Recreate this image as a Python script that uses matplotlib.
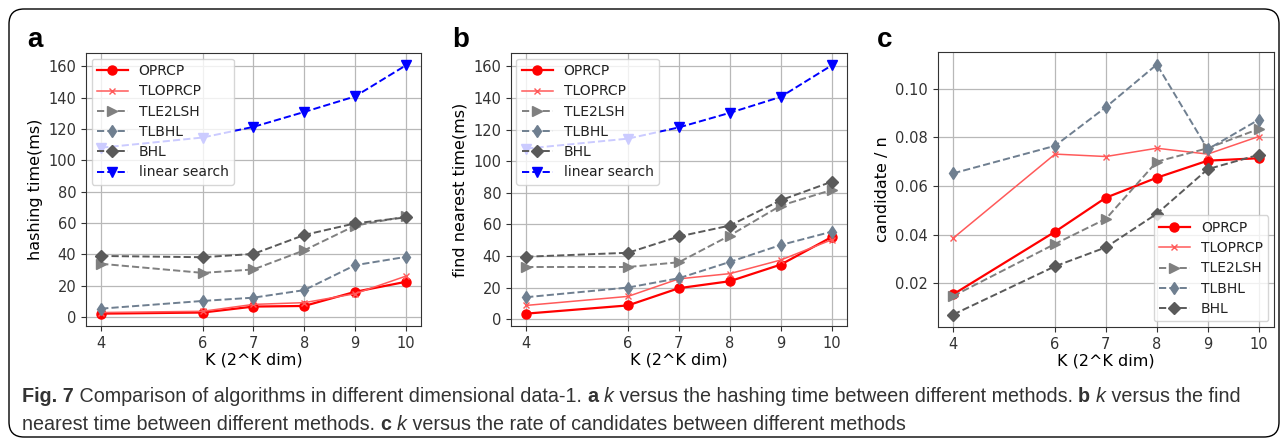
import matplotlib
matplotlib.use('Agg')
import matplotlib.pyplot as plt
from matplotlib.patches import FancyBboxPatch
from matplotlib import font_manager

# data
k = [4, 6, 7, 8, 9, 10]

# (a) hashing time (ms)
hash_oprcp = [2.1, 2.8, 6.6, 7.0, 16.0, 22.4]
hash_tloprcp = [2.8, 3.6, 8.0, 9.1, 14.8, 26.0]
hash_tle2lsh = [33.9, 28.1, 30.3, 42.5, 58.2, 64.1]
hash_tlbhl = [5.3, 10.2, 12.3, 17.1, 33.0, 38.3]
hash_bhl = [38.9, 38.1, 40.2, 52.3, 59.7, 63.5]
hash_linear = [108, 114.5, 121.3, 130.8, 140.7, 160.5]

# (b) find nearest time (ms)
find_oprcp = [3.6, 8.8, 19.7, 24.1, 34.6, 52.0]
find_tloprcp = [8.8, 14.5, 25.6, 28.9, 37.5, 50.3]
find_tle2lsh = [33.1, 33.1, 36.1, 53.0, 71.9, 81.8]
find_tlbhl = [14.0, 20.1, 26.0, 36.3, 47.0, 55.4]
find_bhl = [39.6, 42.1, 52.4, 59.3, 75.3, 87.0]
find_linear = [108, 114.3, 121.4, 130.6, 140.7, 160.6]

# (c) candidate / n
cand_oprcp = [0.0155, 0.0412, 0.0552, 0.0634, 0.0704, 0.0714]
cand_tloprcp = [0.0386, 0.0731, 0.0721, 0.0755, 0.0731, 0.0803]
cand_tle2lsh = [0.0148, 0.0362, 0.0465, 0.0700, 0.0755, 0.0834]
cand_tlbhl = [0.0652, 0.0765, 0.0924, 0.1099, 0.0751, 0.0872]
cand_bhl = [0.0072, 0.0270, 0.0348, 0.0486, 0.0669, 0.0728]

names = ['OPRCP', 'TLOPRCP', 'TLE2LSH', 'TLBHL', 'BHL', 'linear search']
styles = [
    dict(color='red', ls='-', lw=1.6, marker='o', ms=6.5),
    dict(color='#ff5a5a', ls='-', lw=1.1, marker='x', ms=5),
    dict(color='#808080', ls='--', lw=1.4, marker='>', ms=6.5),
    dict(color='#6f7f90', ls='--', lw=1.4, marker='d', ms=6.5),
    dict(color='#5a5a5a', ls='--', lw=1.4, marker='D', ms=6.5),
    dict(color='blue', ls='--', lw=1.4, marker='v', ms=6.5),
]

def has_font(name):
    try:
        font_manager.findfont(name, fallback_to_default=False)
        return True
    except Exception:
        return False

cap_font = 'Liberation Sans Narrow' if has_font('Liberation Sans Narrow') else 'Liberation Sans'

plt.rcParams['font.family'] = 'DejaVu Sans'
plt.rcParams['axes.edgecolor'] = '#333333'
plt.rcParams['text.color'] = '#222222'
plt.rcParams['xtick.color'] = '#333333'
plt.rcParams['ytick.color'] = '#333333'

fig = plt.figure(figsize=(12.87, 4.40), dpi=100)

def panel(rect, series, ylabel, yticks, legend_loc):
    ax = fig.add_axes(rect)
    for name, vals, st in zip(names, series, styles):
        ax.plot(k, vals, label=name, **st)
    ax.set_xticks(k)
    ax.set_yticks(yticks)
    ax.grid(True, color='#b8b8b8', lw=0.9)
    ax.set_axisbelow(True)
    ax.tick_params(labelsize=10.5)
    ax.set_xlabel('K (2^K dim)', fontsize=11.5, labelpad=1)
    ax.set_ylabel(ylabel, fontsize=11.5)
    ax.legend(loc=legend_loc, fontsize=10, handlelength=2.2, borderaxespad=0.4,
              labelspacing=0.45)
    return ax

ax_a = panel([0.0668, 0.259, 0.2603, 0.6205],
             [hash_oprcp, hash_tloprcp, hash_tle2lsh, hash_tlbhl, hash_bhl, hash_linear],
             'hashing time(ms)', range(0, 161, 20), 'upper left')
ax_b = panel([0.397, 0.259, 0.261, 0.6205],
             [find_oprcp, find_tloprcp, find_tle2lsh, find_tlbhl, find_bhl, find_linear],
             'find nearest time(ms)', range(0, 161, 20), 'upper left')
ax_c = panel([0.7288, 0.2568, 0.261, 0.625],
             [cand_oprcp, cand_tloprcp, cand_tle2lsh, cand_tlbhl, cand_bhl],
             'candidate / n', [0.02, 0.04, 0.06, 0.08, 0.10], 'lower right')
ax_c.set_yticklabels(['0.02', '0.04', '0.06', '0.08', '0.10'])

# panel letters
for x, letter in [(27, 'a'), (452, 'b'), (877, 'c')]:
    fig.text(x / 1287, 1 - 40 / 440, letter, fontsize=20, fontweight='bold',
             family='Liberation Sans', va='center', ha='left', color='black')

# rounded frame around everything
frame = FancyBboxPatch((0.09, 0.03), 12.70, 4.28,
                       boxstyle='round,pad=0,rounding_size=0.15',
                       transform=fig.dpi_scale_trans, fill=False,
                       ec='black', lw=1.0)
fig.patches.append(frame)

# caption with mixed bold / italic pieces
renderer = fig.canvas.get_renderer()
cap_size = 14.2
lines = [
    (397, [('Fig. 7', 'bold', 'normal'),
           (' Comparison of algorithms in different dimensional data-1. ', 'normal', 'normal'),
           ('a', 'bold', 'normal'), (' ', 'normal', 'normal'),
           ('k', 'normal', 'italic'),
           (' versus the hashing time between different methods. ', 'normal', 'normal'),
           ('b', 'bold', 'normal'), (' ', 'normal', 'normal'),
           ('k', 'normal', 'italic'),
           (' versus the find', 'normal', 'normal')]),
    (424, [('nearest time between different methods. ', 'normal', 'normal'),
           ('c', 'bold', 'normal'), (' ', 'normal', 'normal'),
           ('k', 'normal', 'italic'),
           (' versus the rate of candidates between different methods', 'normal', 'normal')]),
]
for ypix, pieces in lines:
    xpix = 22
    for txt, weight, style in pieces:
        t = fig.text(xpix / 1287, 1 - ypix / 440, txt, fontsize=cap_size,
                     fontweight=weight, fontstyle=style, family=cap_font,
                     va='center', ha='left', color='#333333')
        bb = t.get_window_extent(renderer=renderer)
        xpix += bb.width

fig.savefig('out.png', dpi=100)
